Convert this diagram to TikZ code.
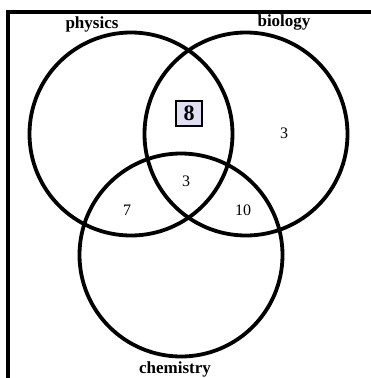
\documentclass[tikz,border=0pt]{standalone}
\usepackage{fontspec}
\setmainfont{Liberation Serif}
\usetikzlibrary{positioning}
\definecolor{lavender}{RGB}{224,224,242}

\begin{document}
\begin{tikzpicture}[x=1pt, y=-1pt,
  set/.style={draw, line width=3.8pt, circle, minimum size=203pt, inner sep=0pt},
  setname/.style={font=\fontsize{17}{18}\selectfont\bfseries},
  count/.style={font=\fontsize{16}{17}\selectfont},
  hilite/.style={draw, line width=2pt, fill=lavender, inner sep=0pt,
                 minimum width=26pt, minimum height=25pt,
                 font=\fontsize{22}{23}\selectfont\bfseries}]
  \useasboundingbox (0,0) rectangle (371,378);
  % frame, open on the right and at the bottom
  \draw[line width=3.5pt] (8,400) -- (8,12) -- (400,12);

  \node[set] (phys) at (131,134) {};
  \node[set] (bio)  at (246,134) {};
  \node[set] (chem) at (181,255) {};

  \node[setname] (physlbl) at (92,24)  {physics};
  \node[setname] (biolbl)  at (284,22) {biology};
  \node[setname] (chemlbl) at (175,369) {chemistry};

  \node[hilite] (pb)  at (189,113) {8};
  \node[count]  (b)   at (284,133) {3};
  \node[count]  (pbc) at (186,181) {3};
  \node[count]  (pc)  at (127,210) {7};
  \node[count]  (bc)  at (243,210) {10};
\end{tikzpicture}
\end{document}
